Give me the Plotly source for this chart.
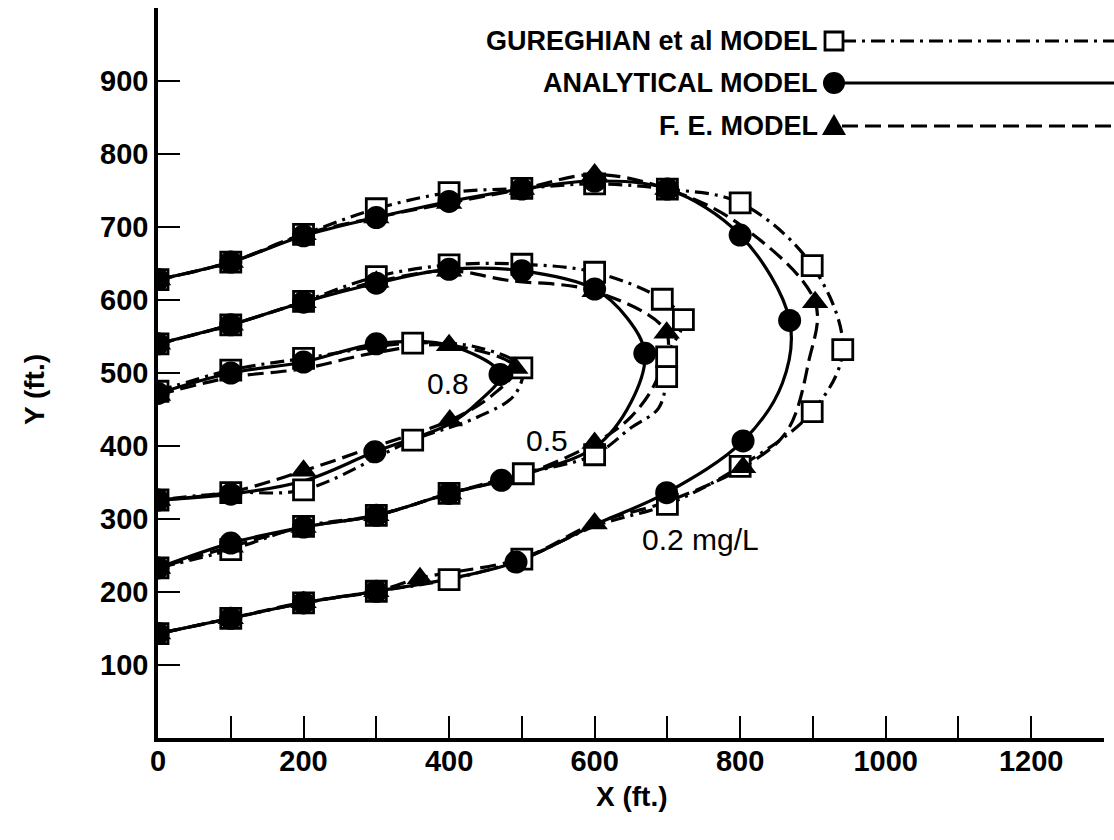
import plotly.graph_objects as go

# ---------------- data (x ft, y ft, marker flag) ----------------
# Gureghian et al model
g02_x = [0, 100, 200, 300, 400, 500, 600, 700, 800, 899, 941, 899, 800, 700, 600, 500, 400, 300, 200, 100, 0]
g02_y = [628, 652, 690, 725, 747, 753, 759, 752, 733, 647, 532, 447, 372, 320, 290, 245, 217, 201, 185, 164, 143]
g02_m = [1, 1, 1, 1, 1, 1, 1, 1, 1, 1, 1, 1, 1, 1, 0, 1, 1, 1, 1, 1, 1]

g05_x = [0, 100, 200, 300, 400, 500, 600, 693, 722, 699, 699, 688, 650, 600, 502, 400, 300, 200, 100, 0]
g05_y = [540, 566, 598, 632, 648, 649, 638, 601, 573, 522, 495, 452, 425, 388, 362, 335, 305, 290, 258, 233]
g05_m = [1, 1, 1, 1, 1, 1, 1, 1, 1, 1, 1, 0, 0, 1, 1, 1, 1, 1, 1, 1]

g08_x = [0, 100, 200, 350, 440, 500, 490, 440, 350, 200, 100, 0]
g08_y = [475, 504, 520, 541, 535, 507, 470, 440, 408, 340, 336, 326]
g08_m = [1, 1, 1, 1, 0, 1, 0, 0, 1, 1, 1, 1]

# Analytical model
a02_x = [0, 100, 200, 300, 400, 500, 600, 700, 800, 868, 858, 804, 699, 600, 492, 400, 300, 200, 100, 0]
a02_y = [628, 652, 688, 713, 735, 752, 763, 752, 689, 572, 486, 407, 336, 292, 241, 218, 201, 185, 164, 143]
a02_m = [1, 1, 1, 1, 1, 1, 1, 1, 1, 1, 0, 1, 1, 0, 1, 0, 1, 1, 1, 1]

a05_x = [0, 100, 200, 300, 400, 500, 600, 645, 669, 650, 600, 472, 400, 300, 200, 100, 0]
a05_y = [540, 566, 597, 623, 642, 640, 615, 575, 527, 460, 398, 353, 335, 305, 289, 267, 233]
a05_m = [1, 1, 1, 1, 1, 1, 1, 0, 1, 0, 0, 1, 1, 1, 1, 1, 1]

a08_x = [0, 100, 200, 300, 400, 470, 440, 400, 298, 200, 100, 0]
a08_y = [472, 500, 515, 540, 538, 498, 460, 430, 392, 352, 334, 326]
a08_m = [1, 1, 1, 1, 0, 1, 0, 0, 1, 0, 1, 1]

# F. E. model
f02_x = [0, 100, 200, 300, 400, 500, 600, 700, 800, 903, 894, 864, 804, 700, 600, 500, 360, 300, 200, 100, 0]
f02_y = [628, 652, 690, 713, 733, 752, 772, 752, 703, 597, 515, 420, 371, 324, 294, 246, 219, 201, 186, 164, 143]
f02_m = [1, 1, 1, 1, 1, 1, 1, 1, 0, 1, 0, 0, 1, 0, 1, 0, 1, 1, 1, 1, 1]

f05_x = [0, 100, 200, 300, 400, 480, 600, 699, 685, 650, 600, 500, 400, 300, 200, 100, 0]
f05_y = [540, 566, 597, 625, 640, 627, 612, 555, 490, 440, 404, 360, 335, 305, 289, 262, 233]
f05_m = [1, 1, 1, 1, 1, 0, 1, 1, 0, 0, 1, 0, 1, 1, 1, 1, 1]

f08_x = [0, 100, 200, 300, 400, 491, 460, 401, 300, 200, 100, 0]
f08_y = [470, 494, 506, 528, 538, 507, 470, 435, 400, 366, 337, 326]
f08_m = [1, 0, 0, 0, 1, 1, 0, 1, 0, 1, 0, 1]

x_ticks = list(range(0, 1301, 100))
x_labels = ["0", "", "200", "", "400", "", "600", "", "800", "", "1000", "", "1200", ""]
y_ticks = list(range(100, 901, 100))
y_labels = [str(v) for v in y_ticks]

contour_labels = ["0.8", "0.5", "0.2 mg/L"]
contour_label_x = [398, 535, 745]
contour_label_y = [486, 407, 272]

legend_names = ["GUREGHIAN et al MODEL", "ANALYTICAL MODEL", "F. E. MODEL"]

# ---------------- figure ----------------
W, H = 1114, 840
ML, MR, MT, MB = 158, 10, 8, 102
PW, PH = W - ML - MR, H - MT - MB
FONT = "Liberation Sans"

fig = go.Figure()

series = {
    "G": [(g02_x, g02_y, g02_m), (g05_x, g05_y, g05_m), (g08_x, g08_y, g08_m)],
    "A": [(a02_x, a02_y, a02_m), (a05_x, a05_y, a05_m), (a08_x, a08_y, a08_m)],
    "F": [(f02_x, f02_y, f02_m), (f05_x, f05_y, f05_m), (f08_x, f08_y, f08_m)],
}
line_style = {
    "G": dict(color="black", width=3.2, dash="14px,6px,3px,6px"),
    "A": dict(color="black", width=3.2),
    "F": dict(color="black", width=3.2, dash="16px,7px"),
}
marker_style = {
    "G": dict(symbol="square", size=20, color="white", line=dict(color="black", width=2.8)),
    "A": dict(symbol="circle", size=23, color="black", line=dict(color="black", width=0)),
    "F": dict(symbol="triangle-up", size=23, color="black", line=dict(color="black", width=0)),
}

for key in ["G", "A", "F"]:
    for xs, ys, ms in series[key]:
        fig.add_trace(go.Scatter(x=xs, y=ys, mode="lines",
                                 line=dict(shape="spline", smoothing=1.0, **line_style[key]),
                                 showlegend=False, hoverinfo="skip"))
for key in ["G", "A", "F"]:
    for xs, ys, ms in series[key]:
        mx = [x for x, m in zip(xs, ms) if m]
        my = [y for y, m in zip(ys, ms) if m]
        fig.add_trace(go.Scatter(x=mx, y=my, mode="markers", marker=marker_style[key],
                                 showlegend=False, hoverinfo="skip"))

for t, x, y in zip(contour_labels, contour_label_x, contour_label_y):
    fig.add_annotation(x=x, y=y, xref="x", yref="y", text=t, showarrow=False,
                       xanchor="center", yanchor="middle",
                       font=dict(family=FONT, size=30, color="black"))

# custom legend (text left of symbol, line running to right edge)
def px(xp):
    return (xp - ML) / PW

def py(yp):
    return (H - MB - yp) / PH

rows_y = [41, 83, 126]
text_right = 820
sym_x = 834
shapes = []
for i, (name, yp) in enumerate(zip(legend_names, rows_y)):
    fig.add_annotation(x=px(text_right), y=py(yp), xref="paper", yref="paper",
                       xanchor="right", yanchor="middle", text=name, showarrow=False,
                       font=dict(family=FONT, size=27, color="black", weight="bold"))
    key = ["G", "A", "F"][i]
    ls = dict(line_style[key])
    shapes.append(dict(type="line", xref="paper", yref="paper",
                       x0=px(sym_x + 8), x1=px(W), y0=py(yp), y1=py(yp), line=ls))
    if key == "G":
        shapes.append(dict(type="rect", xref="paper", yref="paper",
                           x0=px(sym_x - 9), x1=px(sym_x + 9), y0=py(yp + 9), y1=py(yp - 9),
                           fillcolor="white", line=dict(color="black", width=2.8)))
    elif key == "A":
        shapes.append(dict(type="circle", xref="paper", yref="paper",
                           x0=px(sym_x - 11), x1=px(sym_x + 11), y0=py(yp + 11), y1=py(yp - 11),
                           fillcolor="black", line=dict(color="black", width=0)))
    else:
        path = "M {:.5f} {:.5f} L {:.5f} {:.5f} L {:.5f} {:.5f} Z".format(
            px(sym_x - 12), py(yp + 9), px(sym_x + 12), py(yp + 9), px(sym_x), py(yp - 12))
        shapes.append(dict(type="path", xref="paper", yref="paper", path=path,
                           fillcolor="black", line=dict(color="black", width=0)))

fig.add_annotation(x=px(632), y=py(796), xref="paper", yref="paper", text="X (ft.)",
                   xanchor="center", yanchor="middle", showarrow=False,
                   font=dict(family=FONT, size=28, color="black", weight="bold"))
fig.add_annotation(x=px(35), y=py(390), xref="paper", yref="paper", text="Y (ft.)",
                   xanchor="center", yanchor="middle", textangle=-90, showarrow=False,
                   font=dict(family=FONT, size=28, color="black", weight="bold"))

fig.update_layout(
    width=W, height=H,
    margin=dict(l=ML, r=MR, t=MT, b=MB, pad=0),
    paper_bgcolor="white", plot_bgcolor="white",
    shapes=shapes,
    showlegend=False,
    xaxis=dict(range=[0, 1300], tickmode="array", tickvals=x_ticks, ticktext=x_labels,
               ticks="inside", ticklen=22, tickwidth=2.2, tickcolor="black",
               showline=True, linewidth=3.5, linecolor="black", showgrid=False, zeroline=False,
               ticklabelstandoff=-6,
               tickfont=dict(family=FONT, size=29, color="black", weight="bold"),
               fixedrange=True),
    yaxis=dict(range=[0, 1000], tickmode="array", tickvals=y_ticks, ticktext=y_labels,
               ticks="inside", ticklen=22, tickwidth=2.2, tickcolor="black",
               showline=True, linewidth=3.5, linecolor="black", showgrid=False, zeroline=False,
               tickfont=dict(family=FONT, size=29, color="black", weight="bold"),
               fixedrange=True),
)

fig.write_html("out.html")
